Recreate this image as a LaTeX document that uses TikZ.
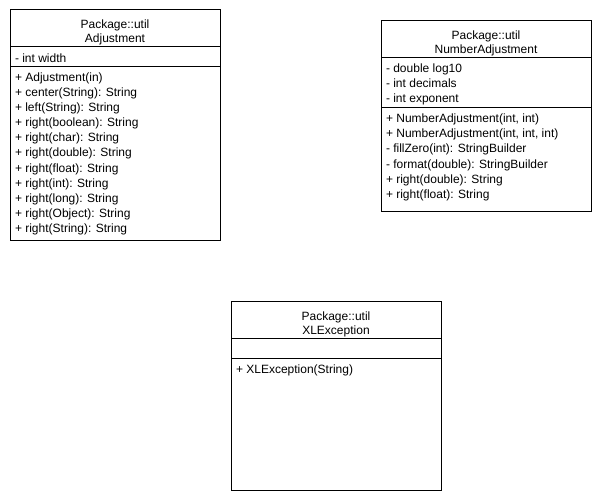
\documentclass[tikz,border=0pt]{standalone}
\usepackage{fontspec}
\setmainfont{Liberation Sans}
\begin{document}
\begin{tikzpicture}[x=1pt,y=-1pt,line width=1pt,
  every node/.style={font=\fontsize{12}{15}\selectfont,inner sep=0pt},
  member/.style={anchor=base west},
  title/.style={anchor=base}]
\useasboundingbox (0,0) rectangle (600,500);
% Adjustment
\draw (10,10) rectangle (220,240);
\draw (10,47) -- (220,47);
\draw (10,67) -- (220,67);
\node[title] (adjpkg) at (115,29) {Package::util};
\node[title] (adjname) at (115,43) {Adjustment};
\node[member] (adjattr) at (14.5,63) {- int width};
\foreach \m [count=\i] in {{+ Adjustment(in)},{+ center(String): String},
  {+ left(String): String},{+ right(boolean): String},{+ right(char): String},
  {+ right(double): String},{+ right(float): String},{+ right(int): String},
  {+ right(long): String},{+ right(Object): String},{+ right(String): String}}
  \node[member] (adjop\i) at (14.5,67+15*\i) {\m};
% NumberAdjustment
\draw (381,21) rectangle (591,211);
\draw (381,58) -- (591,58);
\draw (381,108) -- (591,108);
\node[title] (numpkg) at (486,40) {Package::util};
\node[title] (numname) at (486,54) {NumberAdjustment};
\foreach \m [count=\i] in {{- double log10},{- int decimals},{- int exponent}}
  \node[member] (numattr\i) at (385.5,58+15*\i) {\m};
\foreach \m [count=\i] in {{+ NumberAdjustment(int, int)},
  {+ NumberAdjustment(int, int, int)},{- fillZero(int): StringBuilder},
  {- format(double): StringBuilder},{+ right(double): String},
  {+ right(float): String}}
  \node[member] (numop\i) at (385.5,108+15*\i) {\m};
% XLException
\draw (231,301) rectangle (441,490);
\draw (231,338) -- (441,338);
\draw (231,358) -- (441,358);
\node[title] (xlpkg) at (336,320) {Package::util};
\node[title] (xlname) at (336,334) {XLException};
\node[member] (xlop) at (235.5,373) {+ XLException(String)};
\end{tikzpicture}
\end{document}
